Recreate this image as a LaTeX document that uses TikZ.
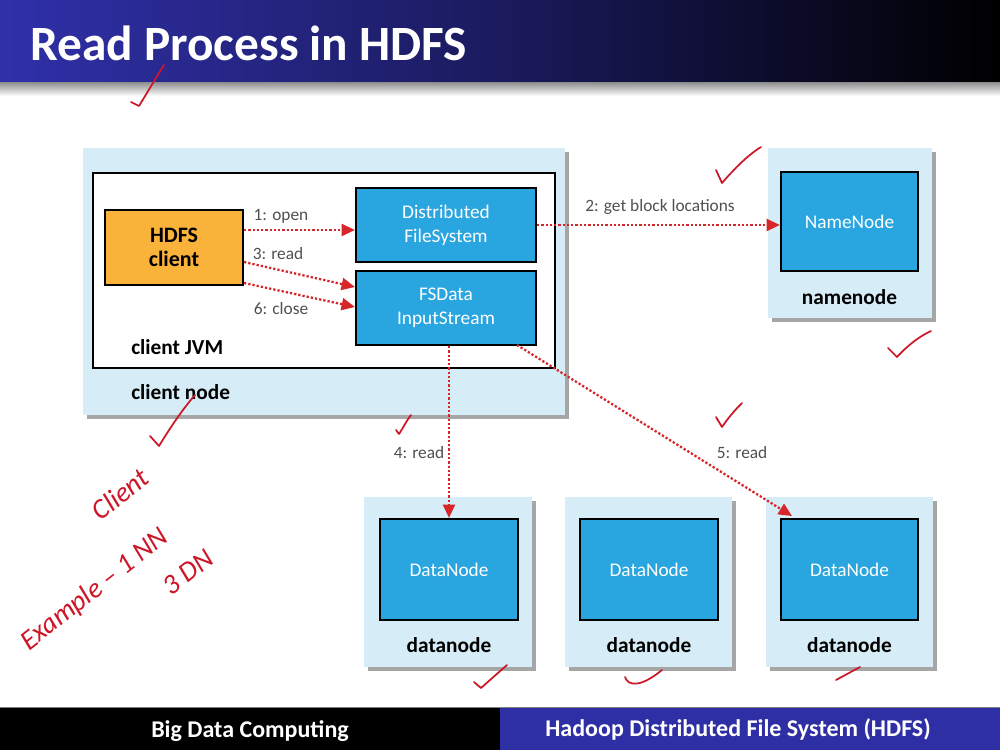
\documentclass[tikz,border=0pt]{standalone}
\usepackage{fontspec}
\setmainfont{Carlito}
\usetikzlibrary{fit,shadows,arrows.meta,calc}
\definecolor{lb}{RGB}{214,236,247}
\definecolor{bx}{RGB}{41,165,223}
\definecolor{org}{RGB}{249,178,58}
\definecolor{rd}{RGB}{215,38,42}
\definecolor{ink}{RGB}{205,22,40}
\definecolor{titleblue}{RGB}{48,48,170}
\definecolor{footblue}{RGB}{46,46,165}
\definecolor{lbl}{RGB}{80,80,80}
\tikzset{
  bgbox/.style={fill=lb, draw=none, inner sep=0pt,
    drop shadow={shadow xshift=3pt, shadow yshift=-3pt, opacity=.35, fill=black}},
  jvmbox/.style={fill=white, draw=black, line width=1.6pt, inner sep=0pt},
  bluebox/.style={fill=bx, draw=black, line width=1.6pt, inner sep=0pt},
  orgbox/.style={fill=org, draw=black, line width=1.6pt, inner sep=0pt},
  bluetxt/.style={text=white, align=center, inner sep=0pt, font=\fontsize{14.5}{18}\selectfont},
  orgtxt/.style={text=black, align=center, inner sep=0pt, font=\bfseries\fontsize{16.5}{18}\selectfont},
  boldlbl/.style={text=black, font=\bfseries\fontsize{16}{19}\selectfont, inner sep=0pt},
  steplbl/.style={text=lbl, font=\fontsize{13}{15}\selectfont, inner sep=0pt},
  arr/.style={draw=rd, line width=1.7pt, dash pattern=on 1.7pt off 1.5pt,
    -{Triangle[length=10pt,width=9pt]}},
  tick/.style={draw=ink, line width=1.3pt, line cap=round, line join=round},
  hand/.style={text=ink, font=\itshape\fontsize{21}{24}\selectfont, inner sep=0pt}
}
\begin{document}
\begin{tikzpicture}[x=0.75pt,y=-0.75pt]
\useasboundingbox (0,0) rectangle (1000,750);
\fill[white] (0,0) rectangle (1000,750);
% title bar
\shade[left color=titleblue, right color=black, middle color=titleblue!55!black] (0,0) rectangle (1000,82);
\shade[top color=black!45, bottom color=white] (0,82) rectangle (1000,96);
\node[anchor=base west, text=white, font=\bfseries\fontsize{37}{40}\selectfont, inner sep=0pt] (title) at (30,60) {Read Process in HDFS};
% footer
\fill[black] (0,708) rectangle (500,750);
\fill[footblue] (500,708) rectangle (1000,750);
\draw[black!50, line width=0.8pt] (0,707.5) -- (1000,707.5);
\node[text=white, font=\bfseries\fontsize{18}{20}\selectfont, inner sep=0pt] (foot1) at (250,731) {Big Data Computing};
\node[text=white, font=\bfseries\fontsize{18}{20}\selectfont, inner sep=0pt] (foot2) at (738,729) {Hadoop Distributed File System (HDFS)};
% client node
\node[bgbox, fit={(83,148)(565,415)}] (cn) {};
\node[jvmbox, fit={(93,173)(555,368)}] (jvm) {};
\node[orgbox, fit={(105,210)(243,285)}] (hc) {};
\node[orgtxt] (hct) at (hc.center) {HDFS\\client};
\node[bluebox, fit={(356,188)(536,262)}] (dfs) {};
\node[bluetxt] (dfst) at (dfs.center) {Distributed\\FileSystem};
\node[bluebox, fit={(356,271)(536,345)}] (fis) {};
\node[bluetxt] (fist) at (fis.center) {FSData\\InputStream};
\node[boldlbl, anchor=base west] (jvmlbl) at (131,354) {client JVM};
\node[boldlbl, anchor=base west] (cnlbl) at (131,399) {client node};
% namenode
\node[bgbox, fit={(768,148)(932,318)}] (nno) {};
\node[bluebox, fit={(781,172)(918,271)}] (nn) {};
\node[bluetxt] (nnt) at (nn.center) {NameNode};
\node[boldlbl, anchor=base] (nnlbl) at (849.5,304) {namenode};
% datanodes
\node[bgbox, fit={(364,497)(532,667)}] (d1o) {};
\node[bluebox, fit={(380,519)(518,620)}] (d1) {};
\node[bluetxt] (d1t) at (d1.center) {DataNode};
\node[boldlbl, anchor=base] (d1lbl) at (449,652) {datanode};
\node[bgbox, fit={(565,497)(732,667)}] (d2o) {};
\node[bluebox, fit={(580,519)(718,620)}] (d2) {};
\node[bluetxt] (d2t) at (d2.center) {DataNode};
\node[boldlbl, anchor=base] (d2lbl) at (649,652) {datanode};
\node[bgbox, fit={(766,497)(933,667)}] (d3o) {};
\node[bluebox, fit={(781,519)(918,620)}] (d3) {};
\node[bluetxt] (d3t) at (d3.center) {DataNode};
\node[boldlbl, anchor=base] (d3lbl) at (849.5,652) {datanode};
% connectors
\coordinate (y1) at (0,230);
\coordinate (y3a) at (0,262);
\coordinate (y3b) at (0,287);
\coordinate (y6a) at (0,283);
\coordinate (y6b) at (0,307);
\coordinate (s5) at (517,345);
\coordinate (e5) at (792,516);
\draw[arr] (hc.east |- y1) -- (dfs.west |- y1);
\draw[arr] (hc.east |- y3a) -- (fis.west |- y3b);
\draw[arr] (hc.east |- y6a) -- (fis.west |- y6b);
\draw[arr] (dfs.east) -- (nn.west |- dfs.east);
\draw[arr] (fis.south -| d1.north) -- (d1.north);
\draw[arr] (s5) -- (e5);
\node[steplbl] (l1) at (281,216) {1: open};
\node[steplbl] (l3) at (278,254) {3: read};
\node[steplbl] (l6) at (281,309) {6: close};
\node[steplbl] (l2) at (660,207) {2: get block locations};
\node[steplbl] (l4) at (419,453) {4: read};
\node[steplbl] (l5) at (742,453) {5: read};
% handwritten annotations
\draw[tick] (131,102) -- (139,106) .. controls (150,88) and (157,76) .. (164,65);
\draw[tick] (716,170) -- (722,183) .. controls (735,168) and (748,155) .. (761,147);
\draw[tick] (888,348) -- (897,357) .. controls (908,345) and (920,336) .. (931,331);
\draw[tick] (150,436) -- (159,446) .. controls (170,428) and (182,410) .. (195,395);
\draw[tick] (396,430) -- (399,434) .. controls (403,428) and (407,420) .. (411,415);
\draw[tick] (716,417) -- (722,427) .. controls (728,418) and (735,410) .. (742,403);
\draw[tick] (474,682) -- (481,688) .. controls (490,680) and (499,672) .. (507,665);
\draw[tick] (625,677) .. controls (628,686) and (640,688) .. (662,670);
\draw[tick] (836,680) -- (860,667);
\node[hand, rotate=38] (hw1) at (120,494) {Client};
\node[hand, rotate=38] (hw2) at (95,590) {Example – 1 NN};
\node[hand, rotate=38] (hw3) at (188,572) {3 DN};
\end{tikzpicture}
\end{document}
